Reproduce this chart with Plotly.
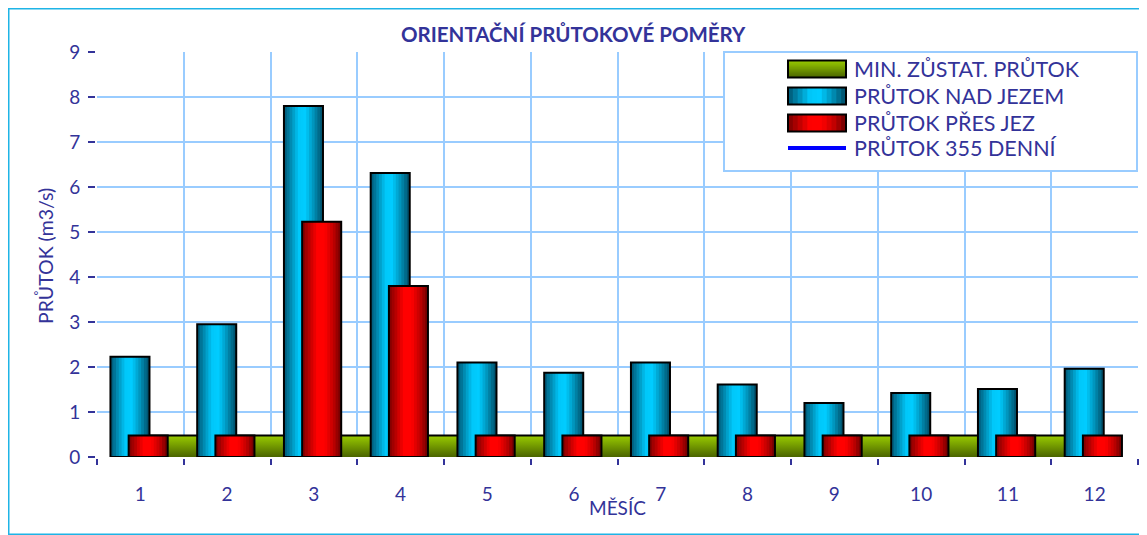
import plotly.graph_objects as go

# ---------------- data ----------------
months = [1, 2, 3, 4, 5, 6, 7, 8, 9, 10, 11, 12]
month_labels = ["1", "2", "3", "4", "5", "6", "7", "8", "9", "10", "11", "12"]
min_residual_flow = [0.48, 0.48, 0.48, 0.48, 0.48, 0.48, 0.48, 0.48, 0.48, 0.48, 0.48, 0.48]
flow_above_weir = [2.23, 2.95, 7.80, 6.31, 2.10, 1.87, 2.10, 1.61, 1.20, 1.42, 1.51, 1.96]
flow_over_weir = [0.48, 0.48, 5.23, 3.80, 0.48, 0.48, 0.48, 0.48, 0.48, 0.48, 0.48, 0.48]
y_ticks = [0, 1, 2, 3, 4, 5, 6, 7, 8, 9]

title_text = "ORIENTAČNÍ PRŮTOKOVÉ POMĚRY"
x_title = "MĚSÍC"
y_title = "PRŮTOK (m3/s)"
legend_names = ["MIN. ZŮSTAT. PRŮTOK", "PRŮTOK NAD JEZEM", "PRŮTOK PŘES JEZ", "PRŮTOK 355 DENNÍ"]

# ---------------- style ----------------
PAGE_OFF = 8                       # default body margin of the html page
W, H = 1147 - PAGE_OFF, 535 - PAGE_OFF
PL, PT, PR, PB = 97, 52, 1138, 457  # plot area in page pixels
L, T = PL - PAGE_OFF, PT - PAGE_OFF
R, B = W - (PR - PAGE_OFF), H - (PB - PAGE_OFF)
PW, PH = PR - PL, PB - PT
NAVY = "#333399"
GRID = "#99CCFF"
FONT = "Lato"

BLUE_STOPS = [(0.0, "#005572"), (0.38, "#00C8FA"), (0.55, "#00CCFF"), (0.75, "#0096BE"), (1.0, "#004A64")]
RED_STOPS = [(0.0, "#7A0000"), (0.38, "#FF0000"), (0.58, "#FF0000"), (0.8, "#C00000"), (1.0, "#6A0000")]
GREEN_STOPS = [(0.0, "#4A6400"), (1.0, "#9ACC00")]  # bottom -> top


def px(x):
    return (x - PL) / PW


def py(y):
    return (PB - y) / PH


def hex2rgb(h):
    h = h.lstrip("#")
    return tuple(int(h[i:i + 2], 16) for i in (0, 2, 4))


def grad(stops, t):
    for (p0, c0), (p1, c1) in zip(stops[:-1], stops[1:]):
        if p0 <= t <= p1:
            f = 0 if p1 == p0 else (t - p0) / (p1 - p0)
            a, b = hex2rgb(c0), hex2rgb(c1)
            return "rgb(%d,%d,%d)" % tuple(round(a[i] + (b[i] - a[i]) * f) for i in range(3))
    return stops[-1][1]


fig = go.Figure()

# green area (behind bars)
fig.add_trace(go.Scatter(
    x=months, y=min_residual_flow, mode="lines", fill="tozeroy",
    line=dict(color="black", width=2),
    fillgradient=dict(type="vertical", start=0, stop=max(min_residual_flow),
                      colorscale=[[0, GREEN_STOPS[0][1]], [1, GREEN_STOPS[1][1]]]),
    name=legend_names[0], showlegend=False, hoverinfo="skip", zorder=0))


def gradient_bars(values, name, left, width, stops, n=14):
    step = width / n
    # each strip runs to the right edge; later strips cover earlier ones -> no seams
    for i in range(n):
        fig.add_trace(go.Bar(
            x=months, y=values, width=width - i * step, offset=left + i * step,
            marker=dict(color=grad(stops, (i + 0.5) / n), line=dict(width=0)),
            showlegend=False, hoverinfo="skip", zorder=1))
    fig.add_trace(go.Bar(
        x=months, y=values, width=width, offset=left,
        marker=dict(color="rgba(0,0,0,0)", line=dict(color="black", width=2)),
        name=name, showlegend=False, zorder=1))


BAR_W = 0.45
gradient_bars(flow_above_weir, legend_names[1], -0.345, BAR_W, BLUE_STOPS)
gradient_bars(flow_over_weir, legend_names[2], -0.135, BAR_W, RED_STOPS)

boundaries = [m - 0.5 for m in months] + [months[-1] + 0.5]

fig.update_layout(
    width=W, height=H,
    margin=dict(l=L, r=R, t=T, b=B, autoexpand=False),
    paper_bgcolor="white", plot_bgcolor="white",
    barmode="overlay", showlegend=False,
    font=dict(family=FONT, color=NAVY, size=19),
    xaxis=dict(range=[0.5, 12.5], tickmode="array", tickvals=months, ticktext=month_labels,
               ticks="", showgrid=False, zeroline=False, showline=True, linecolor=NAVY, linewidth=2,
               ticklabelstandoff=19, tickfont=dict(size=19, color=NAVY),
               minor=dict(tickmode="array", tickvals=boundaries, ticks="outside", ticklen=6,
                          tickcolor=NAVY, tickwidth=2, showgrid=True, gridcolor=GRID, gridwidth=2)),
    yaxis=dict(range=[0, 9], tickmode="array", tickvals=y_ticks, ticks="outside", ticklen=7,
               tickcolor=NAVY, tickwidth=2, showline=True, linecolor=NAVY, linewidth=2,
               showgrid=True, gridcolor=GRID, gridwidth=2, zeroline=False,
               tickfont=dict(size=19, color=NAVY), ticklabelstandoff=4),
)

shapes = []
annotations = []

# outer border (figure edges)
shapes.append(dict(type="rect", xref="paper", yref="paper", x0=px(PAGE_OFF + 0.75), x1=px(1146.25),
                   y0=py(534.25), y1=py(PAGE_OFF + 0.75),
                   line=dict(color="#1EB4E6", width=1.5), fillcolor="rgba(0,0,0,0)", layer="above"))

# legend box
shapes.append(dict(type="rect", xref="paper", yref="paper", x0=px(724), x1=px(1137), y0=py(171), y1=py(52),
                   line=dict(color=GRID, width=2), fillcolor="white", layer="above"))

SW_X0, SW_X1 = 788, 846
rows = [69, 96, 123, 148]
sw_h = 17
n_sw = 12
# green swatch (vertical gradient, drawn bottom-up, each band reaching the top)
y0, y1 = rows[0] - sw_h / 2, rows[0] + sw_h / 2
for i in range(n_sw):
    ya = y1 - i * sw_h / n_sw
    shapes.append(dict(type="rect", xref="paper", yref="paper", x0=px(SW_X0), x1=px(SW_X1), y0=py(ya), y1=py(y0),
                       line=dict(width=0), fillcolor=grad(GREEN_STOPS, (i + 0.5) / n_sw), layer="above"))
shapes.append(dict(type="rect", xref="paper", yref="paper", x0=px(SW_X0), x1=px(SW_X1), y0=py(y1), y1=py(y0),
                   line=dict(color="black", width=2), fillcolor="rgba(0,0,0,0)", layer="above"))
# blue & red swatches (horizontal gradient)
for r, stops in ((rows[1], BLUE_STOPS), (rows[2], RED_STOPS)):
    y0, y1 = r - sw_h / 2, r + sw_h / 2
    sw_w = (SW_X1 - SW_X0) / n_sw
    for i in range(n_sw):
        xa = SW_X0 + i * sw_w
        shapes.append(dict(type="rect", xref="paper", yref="paper", x0=px(xa), x1=px(SW_X1),
                           y0=py(y1), y1=py(y0), line=dict(width=0),
                           fillcolor=grad(stops, (i + 0.5) / n_sw), layer="above"))
    shapes.append(dict(type="rect", xref="paper", yref="paper", x0=px(SW_X0), x1=px(SW_X1), y0=py(y1), y1=py(y0),
                       line=dict(color="black", width=2), fillcolor="rgba(0,0,0,0)", layer="above"))
# line swatch
shapes.append(dict(type="line", xref="paper", yref="paper", x0=px(SW_X0), x1=px(SW_X1), y0=py(rows[3]), y1=py(rows[3]),
                   line=dict(color="#0000FF", width=4), layer="above"))

for name, r in zip(legend_names, rows):
    annotations.append(dict(xref="paper", yref="paper", x=px(852), y=py(r), text=name, showarrow=False,
                            xanchor="left", yanchor="middle", font=dict(family=FONT, size=21.5, color=NAVY)))

# title & axis titles
annotations.append(dict(xref="paper", yref="paper", x=px(573.5), y=py(34), text="<b>%s</b>" % title_text,
                        showarrow=False, xanchor="center", yanchor="middle",
                        font=dict(family=FONT, size=20.5, color=NAVY)))
annotations.append(dict(xref="paper", yref="paper", x=px(617), y=py(507), text=x_title, showarrow=False,
                        xanchor="center", yanchor="middle", font=dict(family=FONT, size=19, color=NAVY)))
annotations.append(dict(xref="paper", yref="paper", x=px(45), y=py(256), text=y_title, showarrow=False,
                        textangle=-90, xanchor="center", yanchor="middle", font=dict(family=FONT, size=19.5, color=NAVY)))

fig.update_layout(shapes=shapes, annotations=annotations)
fig.write_html("out.html")
